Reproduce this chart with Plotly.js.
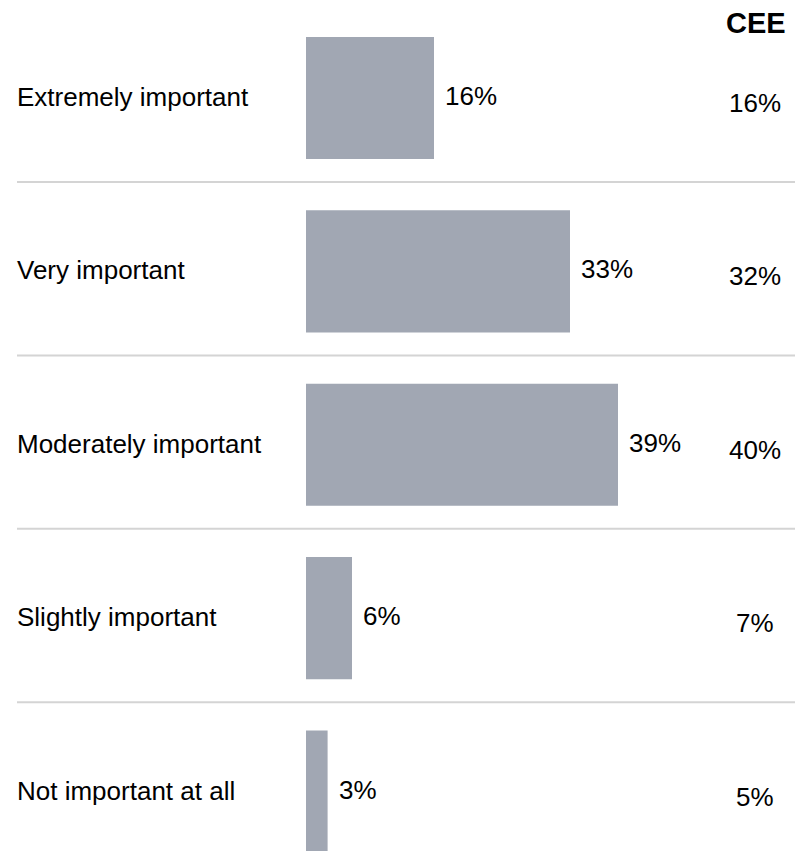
<!DOCTYPE html>
<html>
<head>
<meta charset="utf-8">
<script src="https://cdn.plot.ly/plotly-3.0.1.min.js"></script>
<style>html,body{margin:0;padding:0;background:#fff;}#chart{width:795px;height:851px;}</style>
</head>
<body>
<div id="chart"></div>
<script>
var categories = ["Extremely important", "Very important", "Moderately important", "Slightly important", "Not important at all"];
var values = [16, 33, 39, 5.75, 2.7];
var valueLabels = ["16%", "33%", "39%", "6%", "3%"];
var ceeLabels = ["16%", "32%", "40%", "7%", "5%"];
var ceeHeader = "CEE";

var FONT = "Liberation Sans, Arial, sans-serif";
var W = 795, H = 851;

var trace = {
  type: "bar",
  orientation: "h",
  y: categories,
  x: values,
  marker: {color: "#a1a7b3", line: {width: 0}},
  hoverinfo: "skip"
};

var annotations = [];
var shapes = [];
categories.forEach(function (c, i) {
  annotations.push({
    xref: "paper", yref: "y", x: 17 / W, y: c, xanchor: "left", yanchor: "middle",
    xshift: -2, yshift: 1,
    text: c, showarrow: false, font: {family: FONT, size: 26, color: "#000"}
  });
  annotations.push({
    xref: "x", yref: "y", x: values[i], y: c, xanchor: "left", yanchor: "middle",
    xshift: 9, yshift: 2,
    text: valueLabels[i], showarrow: false, font: {family: FONT, size: 26, color: "#000"}
  });
  annotations.push({
    xref: "paper", yref: "y", x: 755 / W, y: c, xanchor: "center", yanchor: "middle",
    yshift: -5,
    text: ceeLabels[i], showarrow: false, font: {family: FONT, size: 26, color: "#000"}
  });
  if (i < categories.length - 1) {
    shapes.push({
      type: "line", xref: "paper", yref: "y", x0: 17 / W, x1: 1, y0: i + 0.485, y1: i + 0.485,
      line: {color: "#d4d4d4", width: 2}
    });
  }
});
annotations.push({
  xref: "paper", yref: "paper", x: 756 / W, y: 1 - 23 / H, xanchor: "center", yanchor: "middle",
  text: "<b>" + ceeHeader + "</b>", showarrow: false, font: {family: FONT, size: 29, color: "#000"}
});

var layout = {
  width: W, height: H,
  margin: {l: 0, r: 0, t: 0, b: 0, pad: 0},
  paper_bgcolor: "#fff", plot_bgcolor: "#fff",
  showlegend: false,
  bargap: 0.296,
  xaxis: {range: [-38.25, 61.125], showgrid: false, zeroline: false, showticklabels: false, showline: false, fixedrange: true},
  yaxis: {type: "category", categoryorder: "array", categoryarray: categories, range: [4.343, -0.565],
          showgrid: false, zeroline: false, showticklabels: false, showline: false, fixedrange: true},
  annotations: annotations,
  shapes: shapes
};

Plotly.newPlot("chart", [trace], layout, {staticPlot: true, displayModeBar: false});
</script>
</body>
</html>
